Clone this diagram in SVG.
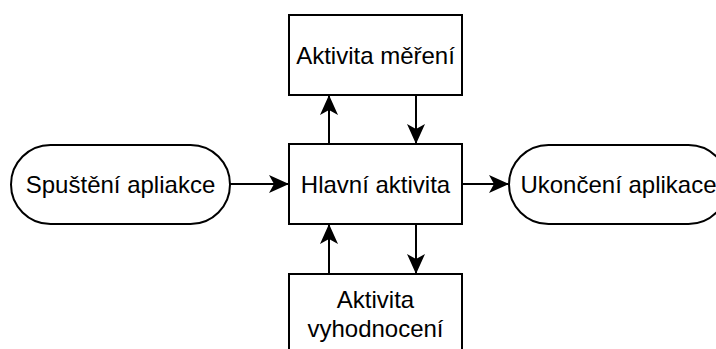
<svg xmlns="http://www.w3.org/2000/svg" width="716" height="349" viewBox="0 0 716 349">
  <style>
    .box { fill: #ffffff; stroke: #000000; stroke-width: 2; }
    .edge { fill: none; stroke: #000000; stroke-width: 2; marker-end: url(#arrow); }
    .label { font-family: "Liberation Sans", Arial, sans-serif; font-size: 24px; fill: #000000; text-anchor: middle; }
  </style>
  <defs>
    <marker id="arrow" viewBox="0 0 20 18" refX="19" refY="9" markerWidth="20" markerHeight="18" markerUnits="userSpaceOnUse" orient="auto">
      <path d="M0,0 L20,9 L0,18 L5,9 Z" fill="#000000"/>
    </marker>
  </defs>
  <rect width="716" height="349" fill="#ffffff"/>

  <g id="connectors">
    <line class="edge" x1="230" y1="184" x2="288" y2="184"/>
    <line class="edge" x1="462" y1="184" x2="508" y2="184"/>
    <line class="edge" x1="329" y1="144" x2="329" y2="96"/>
    <line class="edge" x1="416" y1="95" x2="416" y2="143"/>
    <line class="edge" x1="329" y1="274" x2="329" y2="225"/>
    <line class="edge" x1="416" y1="224" x2="416" y2="273"/>
  </g>

  <g id="start">
    <rect class="box" x="11" y="145" width="219" height="79" rx="39.5" ry="39.5"/>
    <text class="label" x="120.5" y="193">Spuštění apliakce</text>
  </g>

  <g id="main">
    <rect class="box" x="289" y="144" width="173" height="80"/>
    <text class="label" x="375.5" y="193">Hlavní aktivita</text>
  </g>

  <g id="measure">
    <rect class="box" x="289" y="15" width="173" height="80"/>
    <text class="label" x="375.5" y="64">Aktivita měření</text>
  </g>

  <g id="evaluate">
    <rect class="box" x="289" y="274" width="173" height="80"/>
    <text class="label" x="375.5" y="308">Aktivita</text>
    <text class="label" x="375.5" y="337">vyhodnocení</text>
  </g>

  <g id="end">
    <rect class="box" x="509" y="145" width="219" height="79" rx="39.5" ry="39.5"/>
    <text class="label" x="618.5" y="193">Ukončení aplikace</text>
  </g>
</svg>
